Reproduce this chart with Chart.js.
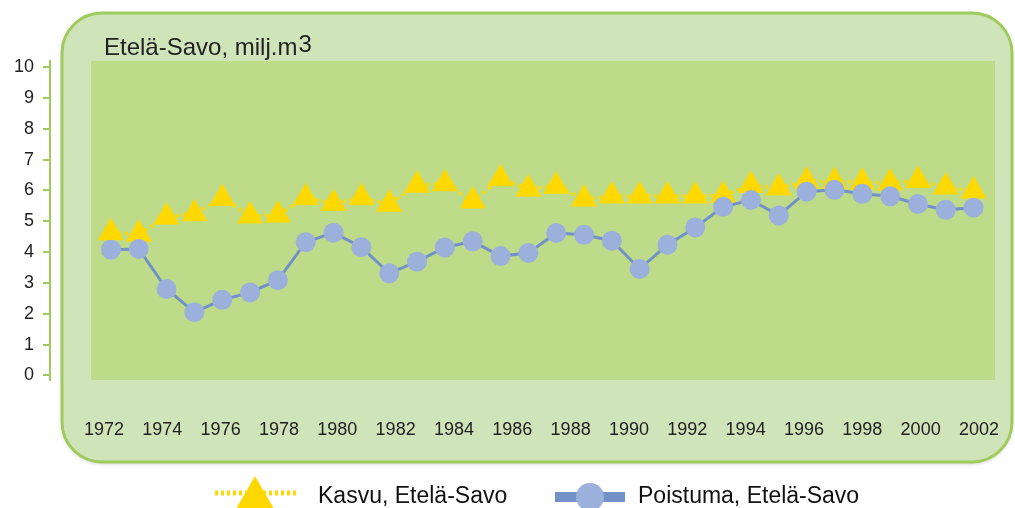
<!DOCTYPE html>
<html>
<head>
<meta charset="utf-8">
<script src="https://cdn.jsdelivr.net/npm/chart.js@4/dist/chart.umd.min.js"></script>
<style>
  html, body { margin: 0; padding: 0; background: #fff; }
  #wrap { width: 1015px; height: 508px; }
</style>
</head>
<body>
<div id="wrap"><canvas id="chart" width="1015" height="508"></canvas></div>
<script>
const years = [1972, 1973, 1974, 1975, 1976, 1977, 1978, 1979, 1980, 1981, 1982, 1983, 1984, 1985, 1986, 1987,
  1988, 1989, 1990, 1991, 1992, 1993, 1994, 1995, 1996, 1997, 1998, 1999, 2000, 2001, 2002, 2003];
const kasvu = [4.63, 4.58, 5.14, 5.24, 5.74, 5.17, 5.20, 5.76, 5.58, 5.76, 5.55, 6.17, 6.22, 5.66, 6.38, 6.05,
  6.14, 5.72, 5.82, 5.82, 5.82, 5.82, 5.84, 6.16, 6.08, 6.30, 6.29, 6.27, 6.24, 6.32, 6.11, 5.98];
const poistuma = [4.08, 4.10, 2.80, 2.05, 2.45, 2.69, 3.09, 4.32, 4.63, 4.16, 3.31, 3.69, 4.15, 4.35, 3.87, 3.97,
  4.62, 4.56, 4.37, 3.45, 4.24, 4.80, 5.47, 5.69, 5.19, 5.96, 6.02, 5.89, 5.81, 5.56, 5.37, 5.44];
const yearLabels = [1972, 1974, 1976, 1978, 1980, 1982, 1984, 1986, 1988, 1990, 1992, 1994, 1996, 1998, 2000, 2002];
const yTicks = [0, 1, 2, 3, 4, 5, 6, 7, 8, 9, 10];

const seriesNames = ['Kasvu, Etelä-Savo', 'Poistuma, Etelä-Savo'];
const titleText = 'Etelä-Savo, milj.m';
const titleSup = '3';

const GREEN = '#9ecb5c';
const YELLOW = '#ffd800';
const BLUE_LINE = '#7391c9';
const BLUE_DOT = '#9bb0da';
const FONT = "'Liberation Sans', Arial, sans-serif";

const toPoints = vals => vals.map((v, i) => ({ x: years[i], y: v }));

// rounded frame, inner plot panel and the title
const framePlugin = {
  id: 'frame',
  beforeDraw(chart) {
    const { ctx, chartArea: a } = chart;
    ctx.save();
    const x0 = a.left + 12, y0 = a.top - 48, x1 = a.right + 17, y1 = a.bottom + 82;
    ctx.shadowColor = 'rgba(0,0,0,0.18)';
    ctx.shadowBlur = 4;
    ctx.shadowOffsetY = 2;
    ctx.beginPath();
    ctx.roundRect(x0, y0, x1 - x0, y1 - y0, 40);
    ctx.fillStyle = '#d0e4ba';
    ctx.fill();
    ctx.shadowColor = 'transparent';
    ctx.lineWidth = 3;
    ctx.strokeStyle = GREEN;
    ctx.stroke();

    ctx.fillStyle = '#bedb8a';
    ctx.fillRect(a.left + 41, a.top, a.right - a.left - 41, a.bottom - a.top);

    ctx.fillStyle = '#222';
    ctx.font = '24px ' + FONT;
    ctx.textBaseline = 'alphabetic';
    ctx.textAlign = 'left';
    const tx = a.left + 54, ty = a.top - 6;
    ctx.fillText(titleText, tx, ty);
    const w = ctx.measureText(titleText).width;
    ctx.fillText(titleSup, tx + w + 1, ty - 3);
    ctx.restore();
  }
};

// legend below the frame, drawn with the dataset styles
const legendPlugin = {
  id: 'bottomLegend',
  afterDraw(chart) {
    const { ctx } = chart;
    const ds = chart.data.datasets;
    const y = 497;
    ctx.save();
    ctx.font = '23px ' + FONT;
    ctx.textBaseline = 'middle';

    // Kasvu
    ctx.strokeStyle = ds[0].borderColor;
    ctx.lineWidth = 5;
    ctx.setLineDash([3, 3]);
    ctx.beginPath();
    ctx.moveTo(215, y - 4);
    ctx.lineTo(298, y - 4);
    ctx.stroke();
    ctx.setLineDash([]);
    const r = 23, cx = 255, cy = y + 2;
    ctx.fillStyle = ds[0].pointBackgroundColor;
    ctx.beginPath();
    ctx.moveTo(cx, cy - r);
    ctx.lineTo(cx + Math.sin(2 * Math.PI / 3) * r, cy + r / 2);
    ctx.lineTo(cx - Math.sin(2 * Math.PI / 3) * r, cy + r / 2);
    ctx.closePath();
    ctx.fill();
    ctx.fillStyle = '#111';
    ctx.fillText(ds[0].label, 318, y);

    // Poistuma
    ctx.strokeStyle = ds[1].borderColor;
    ctx.lineWidth = 10;
    ctx.beginPath();
    ctx.moveTo(555, y);
    ctx.lineTo(625, y);
    ctx.stroke();
    ctx.fillStyle = ds[1].pointBackgroundColor;
    ctx.beginPath();
    ctx.arc(590, y, 14, 0, Math.PI * 2);
    ctx.fill();
    ctx.fillStyle = '#111';
    ctx.fillText(ds[1].label, 638, y);
    ctx.restore();
  }
};

new Chart(document.getElementById('chart'), {
  type: 'line',
  data: {
    datasets: [
      {
        label: seriesNames[0],
        data: toPoints(kasvu),
        order: 2,
        borderColor: YELLOW,
        borderWidth: 3.5,
        borderDash: [3, 4],
        pointStyle: 'triangle',
        pointRadius: 15,
        pointBackgroundColor: YELLOW,
        pointBorderWidth: 0,
        tension: 0
      },
      {
        label: seriesNames[1],
        data: toPoints(poistuma),
        order: 1,
        borderColor: BLUE_LINE,
        borderWidth: 3,
        pointStyle: 'circle',
        pointRadius: 10,
        pointBackgroundColor: BLUE_DOT,
        pointBorderWidth: 0,
        tension: 0
      }
    ]
  },
  options: {
    responsive: false,
    animation: false,
    devicePixelRatio: 1,
    layout: { padding: { top: 61, right: 20, bottom: 0, left: 0 } },
    plugins: { legend: { display: false }, tooltip: { enabled: false } },
    scales: {
      x: { type: 'linear', display: false, min: 1969.81, max: 2003.77 },
      xl: {
        type: 'linear',
        position: 'bottom',
        min: 1970.15,
        max: 2002.55,
        afterBuildTicks: s => { s.ticks = yearLabels.map(v => ({ value: v })); },
        afterFit: s => { s.height = 128; s.paddingLeft = 0; s.paddingRight = 0; },
        grid: { display: false },
        border: { display: false },
        ticks: {
          autoSkip: false,
          maxRotation: 0,
          padding: 31,
          color: '#222',
          font: { family: FONT, size: 18 },
          callback: v => String(v)
        }
      },
      y: {
        min: -0.15,
        max: 10.2,
        afterBuildTicks: s => { s.ticks = yTicks.map(v => ({ value: v })); },
        afterFit: s => { s.width = 50; },
        grid: { drawOnChartArea: false, tickLength: 7, color: GREEN, lineWidth: 2 },
        border: { color: GREEN, width: 2 },
        ticks: { padding: 9, color: '#222', font: { family: FONT, size: 18 } }
      }
    }
  },
  plugins: [framePlugin, legendPlugin]
});
</script>
</body>
</html>
